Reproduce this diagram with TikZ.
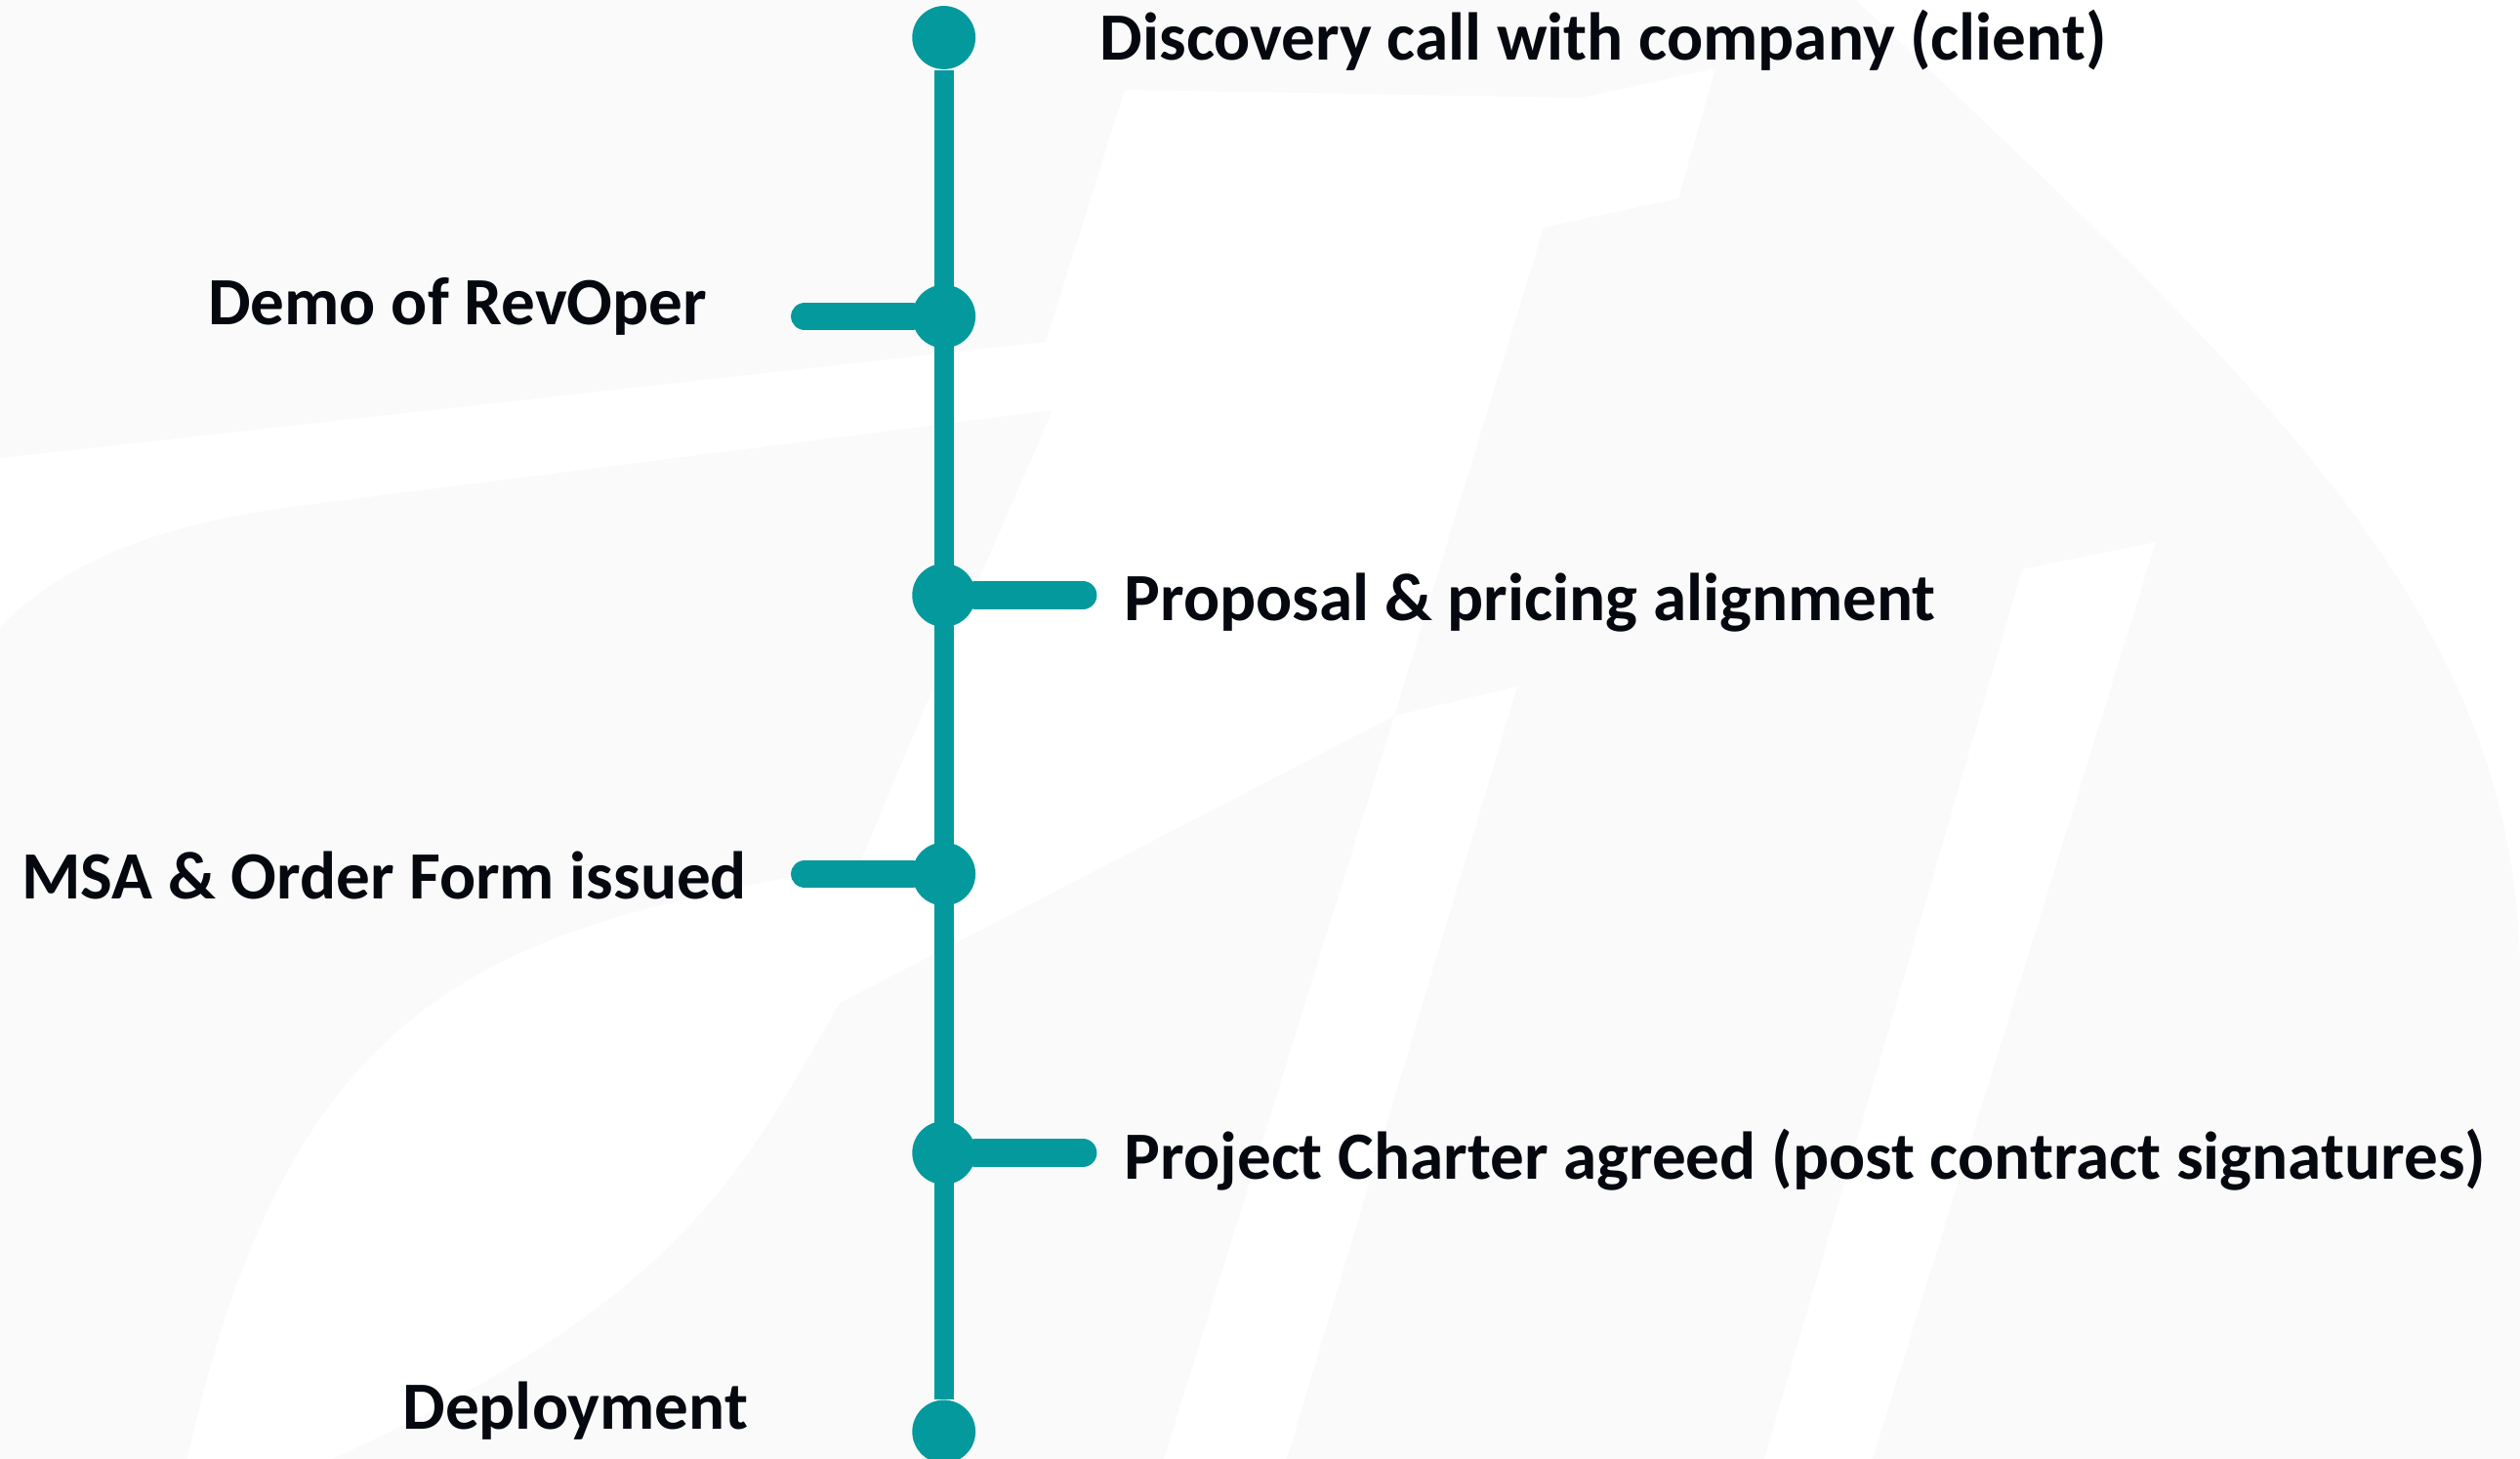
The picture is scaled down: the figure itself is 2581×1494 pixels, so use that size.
\documentclass[tikz,border=0pt]{standalone}
\usepackage{fontspec}
\setmainfont{Carlito}
\usetikzlibrary{positioning}
\definecolor{RevTeal}{HTML}{04999D}
\definecolor{RevInk}{HTML}{05080F}
\definecolor{RevMark}{HTML}{FAFAFA}

\begin{document}
\begin{tikzpicture}[x=0.25pt,y=-0.25pt,
    milestone/.style={circle,fill=RevTeal,inner sep=0pt,minimum size=16.2pt},
    spine/.style={RevTeal,line width=5pt},
    branch/.style={RevTeal,line width=7.2pt,line cap=round},
    lbl/.style={font=\fontsize{17.3}{20}\selectfont\bfseries,text=RevInk,inner sep=0pt}]
    \useasboundingbox[fill=RevMark] (0,0) rectangle (2581,1494);
%   watermark (white cut-outs on the grey logo)
    \fill[white] (0,469) -- (1071,350) -- (1152,92) -- (1620,100) -- (1757,70) -- (1719,203)
        -- (1581,233) -- (1428,733) -- (860,1027) .. controls (760,1200) and (700,1330) .. (340,1494)
        -- (192,1494) .. controls (300,1000) and (520,950) .. (880,885) -- (1000,600) -- (1078,420)
        -- (330,515) .. controls (200,530) and (80,560) .. (0,642) -- cycle;
    \fill[white] (1428,733) -- (1554,703) -- (1318,1494) -- (1192,1494) -- cycle;
    \fill[white] (2071,583) -- (2208,555) -- (1918,1494) -- (1807,1494) -- cycle;
    \fill[white] (1901,0) .. controls (2300,380) and (2581,620) .. (2581,1000) -- (2581,0) -- cycle;

%   timeline
    \foreach \i/\y in {1/38.5,2/324,3/609.5,4/895,5/1180.5,6/1466} {
        \node[milestone] (m\i) at (966.7,\y) {};
    }
    \draw[spine] (m1) -- (m6);

    \coordinate (b2) at (824.5,324);
    \coordinate (b3) at (1109,609.5);
    \coordinate (b4) at (824.5,895);
    \coordinate (b5) at (1109,1180.5);
    \draw[branch] (m2) -- (b2);
    \draw[branch] (m3) -- (b3);
    \draw[branch] (m4) -- (b4);
    \draw[branch] (m5) -- (b5);

%   labels
    \node[lbl,anchor=base west] (t1) at (1126,62) {Discovery call with company (client)};
    \node[lbl,anchor=base east] (t2) at (725,333) {Demo of RevOper};
    \node[lbl,anchor=base west] (t3) at (1151,636) {Proposal \& pricing alignment};
    \node[lbl,anchor=base east] (t4) at (766,921) {MSA \& Order Form issued};
    \node[lbl,anchor=base west] (t5) at (1151,1208) {Project Charter agreed (post contract signatures)};
    \node[lbl,anchor=base east] (t6) at (767,1464) {Deployment};
\end{tikzpicture}
\end{document}
